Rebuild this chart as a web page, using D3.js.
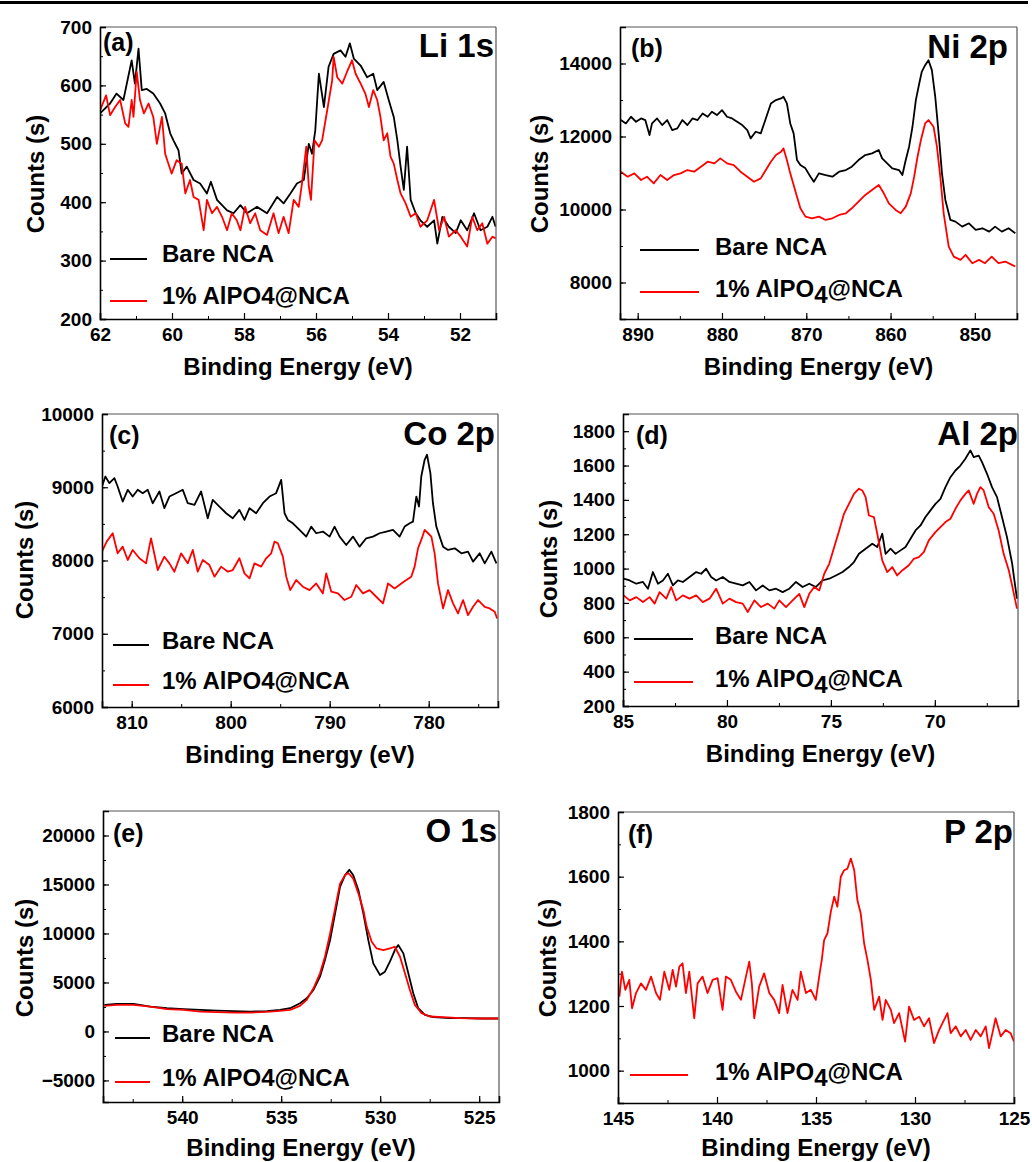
<!DOCTYPE html>
<html>
<head>
<meta charset="utf-8">
<script src="https://cdn.jsdelivr.net/npm/d3@7"></script>
<style>
  body { margin: 0; background: #fff; }
  text { font-family: "Liberation Sans", Arial, sans-serif; font-weight: bold; fill: #000; }
</style>
</head>
<body>
<div id="chart"></div>
<script>
// ---- data: [binding energy (eV), counts] ----
const li1sBare = [[62.00,552],[61.72,569],[61.54,586],[61.35,575],[61.12,643],[61.03,603],[60.93,663],[60.84,592],[60.70,594],[60.52,586],[60.33,569],[60.19,552],[60.05,518],[59.96,506],[59.82,489],[59.73,449],[59.59,461],[59.40,438],[59.22,432],[59.03,415],[58.92,435],[58.75,404],[58.47,386],[58.29,381],[58.10,395],[57.92,381],[57.64,392],[57.36,381],[57.08,409],[56.90,398],[56.71,415],[56.53,432],[56.34,438],[56.20,500],[56.11,483],[56.02,523],[55.92,620],[55.78,563],[55.65,632],[55.51,654],[55.32,660],[55.18,649],[55.06,672],[54.95,646],[54.76,634],[54.58,614],[54.41,620],[54.30,592],[54.12,606],[53.98,575],[53.84,546],[53.74,506],[53.65,461],[53.56,421],[53.47,495],[53.37,404],[53.23,381],[53.10,369],[52.91,358],[52.72,369],[52.63,329],[52.49,375],[52.31,358],[52.12,347],[51.98,369],[51.80,352],[51.61,381],[51.43,352],[51.24,358],[51.10,375],[51.01,358]];
const li1sCoated = [[62.00,557],[61.83,583],[61.72,549],[61.58,563],[61.44,575],[61.30,535],[61.21,529],[61.12,575],[61.07,546],[60.98,623],[60.89,575],[60.78,552],[60.65,569],[60.52,546],[60.42,500],[60.28,546],[60.19,483],[60.10,466],[60.01,449],[59.87,472],[59.73,466],[59.63,415],[59.50,438],[59.40,409],[59.26,404],[59.12,352],[59.03,404],[58.89,381],[58.75,392],[58.61,375],[58.47,352],[58.34,381],[58.20,369],[58.10,352],[57.97,392],[57.83,364],[57.69,381],[57.55,352],[57.36,344],[57.18,381],[57.04,347],[56.90,375],[56.76,347],[56.62,404],[56.48,392],[56.39,432],[56.27,495],[56.20,427],[56.14,404],[56.04,506],[55.92,495],[55.83,506],[55.69,557],[55.55,609],[55.51,649],[55.41,614],[55.27,603],[55.14,623],[55.00,643],[54.90,620],[54.76,603],[54.63,586],[54.53,563],[54.41,592],[54.30,575],[54.21,546],[54.12,506],[54.02,518],[53.93,478],[53.84,466],[53.74,438],[53.65,415],[53.51,398],[53.37,375],[53.23,381],[53.10,358],[52.91,369],[52.72,404],[52.58,352],[52.44,375],[52.31,341],[52.12,352],[51.98,341],[51.80,324],[51.66,375],[51.52,352],[51.38,364],[51.24,329],[51.10,341],[51.01,338]];

const ni2pBare = [[892.0,12450],[891.4,12358],[890.8,12541],[890.2,12404],[889.6,12495],[889.1,12450],[888.6,12039],[888.3,12358],[887.7,12495],[887.1,12313],[886.5,12450],[885.9,12176],[885.3,12222],[884.7,12450],[884.1,12313],[883.5,12495],[882.9,12450],[882.3,12632],[881.7,12541],[881.2,12678],[880.6,12587],[880.0,12723],[879.4,12541],[878.8,12495],[878.2,12404],[877.6,12313],[877.0,12176],[876.6,11948],[876.0,12130],[875.4,12085],[875.0,12358],[874.6,12632],[874.2,12906],[873.6,12997],[873.0,13042],[872.7,13088],[872.3,12906],[871.9,12358],[871.5,12085],[871.1,11355],[870.7,11218],[870.1,11127],[869.5,10899],[869.1,10762],[868.5,10990],[867.7,10945],[866.9,10899],[866.1,11036],[865.3,11082],[864.6,11173],[863.8,11355],[863.0,11492],[862.2,11538],[861.4,11629],[861.0,11401],[860.4,11264],[859.8,11127],[859.0,11082],[858.6,10945],[858.2,11355],[857.8,11720],[857.4,12267],[857.0,12997],[856.6,13453],[856.3,13772],[855.9,13954],[855.5,14091],[855.1,13818],[854.7,13088],[854.3,12085],[853.9,10990],[853.5,10261],[852.9,9714],[852.3,9668],[851.5,9531],[850.7,9622],[849.9,9440],[849.1,9486],[848.3,9394],[847.6,9531],[846.8,9394],[846.0,9486],[845.2,9349]];
const ni2pCoated = [[892.0,11036],[891.2,10899],[890.4,10990],[889.6,10808],[888.9,10899],[888.1,10717],[887.3,10945],[886.5,10808],[885.7,10945],[884.9,10990],[884.1,11082],[883.3,11036],[882.5,11173],[881.7,11310],[880.9,11264],[880.2,11401],[879.4,11264],[878.6,11218],[877.8,11036],[877.0,10899],[876.2,10762],[875.4,10853],[874.8,11082],[874.2,11310],[873.6,11492],[873.0,11583],[872.7,11674],[872.3,11355],[871.9,10990],[871.5,10671],[871.1,10352],[870.7,10033],[870.1,9805],[869.3,9759],[868.5,9805],[867.7,9714],[866.9,9759],[866.1,9850],[865.3,9896],[864.6,10033],[863.8,10215],[863.0,10398],[862.2,10534],[861.4,10671],[860.8,10443],[860.2,10170],[859.4,9987],[858.8,9896],[858.2,10079],[857.6,10443],[857.2,10899],[856.8,11446],[856.4,11902],[855.9,12358],[855.5,12450],[854.9,12267],[854.5,11720],[854.1,10899],[853.7,9896],[853.1,8984],[852.5,8710],[851.7,8619],[851.1,8756],[850.3,8528],[849.5,8619],[848.8,8528],[848.0,8710],[847.2,8528],[846.4,8574],[845.6,8482],[845.2,8437]];

const co2pBare = [[813.00,9010],[812.66,9147],[812.26,9056],[811.75,9124],[811.42,9010],[810.91,8805],[810.40,8965],[809.90,8873],[809.39,8965],[808.89,8919],[808.38,8965],[807.88,8782],[807.20,8942],[806.70,8714],[806.19,8873],[805.52,8919],[804.84,8965],[804.34,8782],[803.66,8759],[802.99,8942],[802.32,8577],[801.81,8828],[801.14,8737],[800.46,8645],[799.79,8577],[799.12,8691],[798.61,8554],[798.10,8714],[797.43,8645],[796.75,8782],[796.08,8873],[795.41,8919],[794.90,9101],[794.56,8645],[794.23,8554],[793.72,8508],[793.05,8417],[792.37,8326],[791.87,8463],[791.36,8372],[790.69,8395],[790.01,8326],[789.51,8463],[789.00,8326],[788.33,8212],[787.65,8326],[786.98,8189],[786.31,8303],[785.63,8326],[784.96,8372],[784.28,8395],[783.61,8417],[782.94,8326],[782.43,8463],[781.92,8508],[781.59,8531],[781.25,8873],[780.98,8737],[780.75,9147],[780.41,9375],[780.17,9444],[779.83,9193],[779.57,8782],[779.23,8463],[778.89,8326],[778.55,8189],[778.05,8144],[777.37,8166],[776.70,8098],[776.03,8121],[775.52,7984],[774.85,8098],[774.34,7961],[773.67,8121],[773.16,7961]];
const co2pCoated = [[813.00,8121],[812.53,8258],[811.92,8372],[811.42,8098],[810.91,8189],[810.40,8007],[809.90,8144],[809.22,8030],[808.55,7961],[808.05,8303],[807.37,7870],[806.70,8052],[806.19,7961],[805.69,7847],[805.01,8098],[804.34,7961],[803.83,8144],[803.33,7847],[802.82,8007],[802.15,7938],[801.64,7779],[800.97,7916],[800.29,7847],[799.79,7870],[799.12,8030],[798.61,7824],[798.10,7756],[797.60,7961],[796.92,7916],[796.42,8030],[795.91,8098],[795.57,8258],[795.24,8235],[794.73,8052],[794.39,7779],[793.99,7596],[793.38,7733],[792.71,7642],[792.04,7596],[791.36,7687],[790.69,7551],[790.35,7824],[789.84,7574],[789.17,7551],[788.50,7460],[787.82,7505],[787.32,7665],[786.64,7551],[785.97,7596],[785.30,7505],[784.62,7414],[784.11,7687],[783.44,7619],[782.77,7687],[782.26,7733],[781.76,7779],[781.42,7916],[781.08,8166],[780.75,8281],[780.41,8417],[780.07,8372],[779.73,8326],[779.40,8098],[779.06,7687],[778.55,7346],[778.05,7596],[777.54,7414],[777.04,7277],[776.53,7460],[776.03,7254],[775.52,7368],[775.01,7460],[774.34,7368],[773.84,7346],[773.33,7300],[773.09,7209]];

const al2pBare = [[84.97,941],[84.68,931],[84.36,912],[84.04,922],[83.80,883],[83.56,980],[83.32,912],[83.08,931],[82.84,970],[82.60,902],[82.36,931],[82.12,922],[81.80,951],[81.48,980],[81.24,970],[81.00,999],[80.76,951],[80.52,931],[80.20,951],[79.88,922],[79.56,912],[79.24,902],[78.92,922],[78.60,873],[78.28,902],[77.96,873],[77.64,883],[77.32,863],[77.00,883],[76.68,922],[76.36,893],[76.04,912],[75.72,893],[75.40,931],[75.08,941],[74.76,960],[74.44,980],[74.13,1009],[73.89,1038],[73.65,1086],[73.33,1116],[73.01,1145],[72.77,1126],[72.53,1203],[72.37,1086],[72.13,1116],[71.89,1086],[71.65,1106],[71.41,1126],[71.17,1174],[70.93,1222],[70.69,1251],[70.45,1300],[70.21,1339],[69.97,1377],[69.73,1406],[69.49,1474],[69.25,1532],[69.01,1571],[68.77,1600],[68.53,1639],[68.29,1688],[68.13,1649],[67.89,1658],[67.73,1620],[67.49,1552],[67.25,1474],[67.01,1416],[66.77,1300],[66.53,1183],[66.28,1028],[66.13,893],[66.05,825]];
const al2pCoated = [[84.97,844],[84.68,815],[84.36,834],[84.04,805],[83.72,834],[83.48,796],[83.24,863],[82.92,825],[82.68,893],[82.44,815],[82.12,844],[81.80,825],[81.48,844],[81.16,805],[80.84,825],[80.52,883],[80.20,796],[79.88,825],[79.56,805],[79.24,796],[79.00,747],[78.68,815],[78.36,776],[78.04,796],[77.72,767],[77.48,815],[77.16,776],[76.84,815],[76.52,853],[76.28,776],[76.04,853],[75.80,893],[75.56,873],[75.32,970],[75.08,1028],[74.84,1126],[74.60,1222],[74.37,1319],[74.13,1377],[73.89,1435],[73.65,1465],[73.49,1455],[73.33,1416],[73.17,1309],[72.93,1300],[72.77,1203],[72.53,1048],[72.29,980],[72.05,1009],[71.81,960],[71.57,989],[71.25,1019],[71.01,1057],[70.77,1067],[70.53,1096],[70.29,1164],[69.97,1212],[69.73,1242],[69.49,1271],[69.25,1290],[69.01,1348],[68.77,1397],[68.53,1435],[68.37,1455],[68.13,1377],[67.97,1435],[67.81,1474],[67.65,1455],[67.41,1358],[67.17,1319],[66.93,1222],[66.69,1086],[66.44,989],[66.20,854],[66.05,767]];

const o1sBare = [[543.93,2712],[543.30,2814],[542.46,2814],[541.61,2542],[540.77,2373],[539.93,2271],[539.09,2204],[538.25,2136],[537.41,2068],[536.57,2034],[535.73,2068],[535.06,2204],[534.55,2373],[534.05,2882],[533.71,3390],[533.37,4238],[533.04,5594],[532.79,7289],[532.53,9323],[532.28,12035],[532.03,14747],[531.78,15933],[531.56,16509],[531.36,15933],[531.10,14408],[530.85,12035],[530.60,9323],[530.35,6950],[530.01,5763],[529.76,6102],[529.51,7119],[529.26,8306],[529.09,8814],[528.83,7967],[528.58,5933],[528.33,3899],[528.08,2373],[527.74,1695],[527.32,1458],[526.48,1356],[525.64,1356],[524.80,1322],[524.04,1322]];
const o1sCoated = [[543.93,2610],[543.30,2712],[542.46,2712],[541.61,2542],[540.77,2271],[539.93,2204],[539.09,2034],[538.25,1966],[537.41,1932],[536.57,1932],[535.73,2000],[535.06,2102],[534.55,2204],[534.05,2610],[533.71,3221],[533.37,4407],[533.04,5933],[532.79,7628],[532.53,10001],[532.28,12543],[532.03,15086],[531.78,15933],[531.61,16170],[531.36,15594],[531.10,14069],[530.85,12374],[530.68,10679],[530.43,9153],[530.18,8475],[529.84,8306],[529.51,8475],[529.26,8645],[529.00,7628],[528.75,5933],[528.50,4238],[528.25,2712],[527.91,1865],[527.49,1526],[526.82,1458],[525.98,1356],[525.14,1322],[524.04,1322]];

const p2pCoated = [[144.93,1229],[144.80,1306],[144.63,1250],[144.43,1281],[144.29,1193],[144.09,1240],[143.84,1270],[143.59,1250],[143.33,1291],[143.08,1240],[142.88,1219],[142.66,1306],[142.41,1250],[142.24,1312],[142.07,1260],[141.90,1322],[141.74,1332],[141.57,1240],[141.40,1306],[141.15,1162],[140.98,1270],[140.73,1291],[140.48,1240],[140.22,1281],[139.97,1286],[139.72,1188],[139.55,1291],[139.30,1281],[139.05,1245],[138.79,1219],[138.54,1291],[138.37,1337],[138.24,1270],[138.12,1162],[137.87,1260],[137.62,1301],[137.36,1240],[137.11,1219],[136.86,1178],[136.69,1265],[136.44,1178],[136.19,1250],[135.93,1219],[135.77,1306],[135.51,1240],[135.26,1250],[135.01,1219],[134.84,1291],[134.71,1342],[134.59,1404],[134.42,1425],[134.25,1492],[134.08,1538],[133.92,1507],[133.75,1599],[133.58,1620],[133.41,1625],[133.24,1656],[133.07,1620],[132.91,1527],[132.74,1486],[132.57,1394],[132.40,1342],[132.23,1281],[132.06,1188],[131.81,1229],[131.64,1157],[131.48,1219],[131.22,1188],[131.06,1147],[130.80,1178],[130.50,1090],[130.30,1198],[130.05,1157],[129.79,1167],[129.54,1137],[129.29,1162],[129.04,1085],[128.78,1126],[128.53,1157],[128.36,1178],[128.20,1116],[127.94,1137],[127.69,1106],[127.44,1126],[127.19,1095],[126.93,1126],[126.68,1106],[126.43,1137],[126.26,1070],[126.09,1116],[125.93,1162],[125.67,1106],[125.42,1126],[125.17,1116],[125.00,1090]];

// ---- tick labels ----
const li1sXTicks = [62, 60, 58, 56, 54, 52];
const li1sYTicks = [200, 300, 400, 500, 600, 700];
const ni2pXTicks = [890, 880, 870, 860, 850];
const ni2pYTicks = [8000, 10000, 12000, 14000];
const co2pXTicks = [810, 800, 790, 780];
const co2pYTicks = [6000, 7000, 8000, 9000, 10000];
const al2pXTicks = [85, 80, 75, 70];
const al2pYTicks = [200, 400, 600, 800, 1000, 1200, 1400, 1600, 1800];
const o1sXTicks = [540, 535, 530, 525];
const o1sYTicks = [-5000, 0, 5000, 10000, 15000, 20000];
const p2pXTicks = [145, 140, 135, 130, 125];
const p2pYTicks = [1000, 1200, 1400, 1600, 1800];

const bareName = "Bare NCA";
const coatedName = ["1% AlPO", "4", "@NCA"];

// ---- layout of the six panels ----
const panels = [
    { box: [100, 27, 496, 319], x: [62, 51], y: [200, 700], xt: li1sXTicks, yt: li1sYTicks, xm: 1, ym: 50,
      series: [li1sBare, li1sCoated], letter: "(a)", letterAt: [103, 51], label: "Li 1s", labelAt: [494, 57],
      legend: { x1: 110, x2: 147, ys: [259, 301], tx: 162, dy: 3, sub: false }, yTitle: [44, 174], titleDy: 56 },
    { box: [620, 27, 1017, 319], x: [892.1, 845], y: [7000, 15000], xt: ni2pXTicks, yt: ni2pYTicks, xm: 5, ym: 1000,
      series: [ni2pBare, ni2pCoated], letter: "(b)", letterAt: [631, 57], label: "Ni 2p", labelAt: [1008, 58],
      legend: { x1: 640, x2: 699, ys: [250, 292], tx: 715, dy: 5, sub: true }, yTitle: [548, 174], titleDy: 56 },
    { box: [102, 414, 498, 707], x: [813, 773], y: [6000, 10000], xt: co2pXTicks, yt: co2pYTicks, xm: 5, ym: 500,
      series: [co2pBare, co2pCoated], letter: "(c)", letterAt: [109, 444], label: "Co 2p", labelAt: [495, 445],
      legend: { x1: 113, x2: 149, ys: [645, 685], tx: 162, dy: 4, sub: false }, yTitle: [33, 560], titleDy: 56 },
    { box: [623, 414, 1018, 706], x: [85, 66], y: [200, 1900], xt: al2pXTicks, yt: al2pYTicks, xm: 2.5, ym: 100,
      series: [al2pBare, al2pCoated], letter: "(d)", letterAt: [636, 444], label: "Al 2p", labelAt: [1018, 445],
      legend: { x1: 634, x2: 693, ys: [639, 682], tx: 715, dy: 5, sub: true }, yTitle: [557, 559], titleDy: 56 },
    { box: [103, 811, 499, 1102], x: [544, 524], y: [-7200, 22500], xt: o1sXTicks, yt: o1sYTicks, xm: 2.5, ym: 2500,
      series: [o1sBare, o1sCoated], letter: "(e)", letterAt: [113, 842], label: "O 1s", labelAt: [497, 842],
      legend: { x1: 115, x2: 150, ys: [1038, 1082], tx: 162, dy: 4, sub: false }, yTitle: [33, 958], titleDy: 54 },
    { box: [618, 812, 1014, 1103], x: [145, 125], y: [900, 1800], xt: p2pXTicks, yt: p2pYTicks, xm: 2.5, ym: 100,
      series: [null, p2pCoated], letter: "(f)", letterAt: [628, 843], label: "P 2p", labelAt: [1013, 843],
      legend: { x1: 630, x2: 688, ys: [null, 1075], tx: 715, dy: 5, sub: true }, yTitle: [556, 958], titleDy: 53 }
];

const colors = ["#000000", "#ff0000"];

const svg = d3.select("#chart").append("svg")
    .attr("width", 1032)
    .attr("height", 1162);

// heavy rule across the top of the figure
svg.append("rect")
    .attr("x", 0).attr("y", 1)
    .attr("width", 1028).attr("height", 3)
    .attr("fill", "#000");

panels.forEach((p, i) => {
    const [x0, y0, x1, y1] = p.box;
    const xScale = d3.scaleLinear().domain(p.x).range([x0, x1]);
    const yScale = d3.scaleLinear().domain(p.y).range([y1, y0]);
    const g = svg.append("g");

    // clip for the spectra
    const clipId = "clip" + i;
    svg.append("clipPath").attr("id", clipId)
        .append("rect")
        .attr("x", x0).attr("y", y0)
        .attr("width", x1 - x0).attr("height", y1 - y0);

    const line = d3.line().x(d => xScale(d[0])).y(d => yScale(d[1]));
    p.series.forEach((s, k) => {
        if (!s) return;
        g.append("path")
            .datum(s)
            .attr("clip-path", "url(#" + clipId + ")")
            .attr("d", line)
            .attr("fill", "none")
            .attr("stroke", colors[k])
            .attr("stroke-width", 1.8)
            .attr("stroke-linejoin", "round");
    });

    // frame: top / right lighter, left / bottom black
    g.append("line").attr("x1", x0).attr("x2", x1).attr("y1", y0).attr("y2", y0)
        .attr("stroke", "#555").attr("stroke-width", 1.2);
    g.append("line").attr("x1", x1).attr("x2", x1).attr("y1", y0).attr("y2", y1)
        .attr("stroke", "#555").attr("stroke-width", 1.2);

    // minor ticks
    const xMinor = d3.range(Math.ceil(Math.min(...p.x) / p.xm) * p.xm, Math.max(...p.x) + 1e-9, p.xm);
    const yMinor = d3.range(Math.ceil(p.y[0] / p.ym) * p.ym, p.y[1] + 1e-9, p.ym);
    g.append("g").attr("transform", `translate(0,${y1})`)
        .call(d3.axisBottom(xScale).tickValues(xMinor).tickSize(-3).tickFormat(""))
        .call(a => a.select(".domain").remove());
    g.append("g").attr("transform", `translate(${x0},0)`)
        .call(d3.axisLeft(yScale).tickValues(yMinor).tickSize(-3).tickFormat(""))
        .call(a => a.select(".domain").remove());

    // major ticks and labels
    const xAxis = g.append("g").attr("transform", `translate(0,${y1})`)
        .call(d3.axisBottom(xScale).tickValues(p.xt).tickSize(-6).tickPadding(9).tickFormat(d3.format("d")));
    const yAxis = g.append("g").attr("transform", `translate(${x0},0)`)
        .call(d3.axisLeft(yScale).tickValues(p.yt).tickSize(-6).tickPadding(8).tickFormat(d3.format("d")));
    [xAxis, yAxis].forEach(a => {
        a.attr("font-family", null).attr("font-size", null);
        a.select(".domain").attr("stroke", "#000").attr("stroke-width", 1.6);
        a.selectAll(".tick line").attr("stroke", "#000").attr("stroke-width", 1.2);
        a.selectAll(".tick text").style("font-size", "19px");
    });
    g.selectAll(".tick line").attr("stroke", "#000");

    // axis titles
    g.append("text")
        .attr("x", (x0 + x1) / 2).attr("y", y1 + p.titleDy)
        .attr("text-anchor", "middle")
        .style("font-size", "24px")
        .text("Binding Energy (eV)");
    g.append("text")
        .attr("transform", `translate(${p.yTitle[0]},${p.yTitle[1]}) rotate(-90)`)
        .attr("text-anchor", "middle")
        .style("font-size", "24px")
        .text("Counts (s)");

    // panel letter and element label
    g.append("text").attr("x", p.letterAt[0]).attr("y", p.letterAt[1])
        .style("font-size", "25px").text(p.letter);
    g.append("text").attr("x", p.labelAt[0]).attr("y", p.labelAt[1])
        .attr("text-anchor", "end")
        .style("font-size", "33px").text(p.label);

    // legend
    const lg = p.legend;
    lg.ys.forEach((ly, k) => {
        if (ly === null) return;
        g.append("line")
            .attr("x1", lg.x1).attr("x2", lg.x2).attr("y1", ly).attr("y2", ly)
            .attr("stroke", colors[k]).attr("stroke-width", 2);
        const t = g.append("text")
            .attr("x", lg.tx).attr("y", ly + lg.dy)
            .style("font-size", "24px");
        if (k === 0) {
            t.text(bareName);
        } else if (lg.sub) {
            t.append("tspan").text(coatedName[0]);
            t.append("tspan").attr("dy", 6).text(coatedName[1]);
            t.append("tspan").attr("dy", -6).text(coatedName[2]);
        } else {
            t.text(coatedName.join(""));
        }
    });
});
</script>
</body>
</html>
